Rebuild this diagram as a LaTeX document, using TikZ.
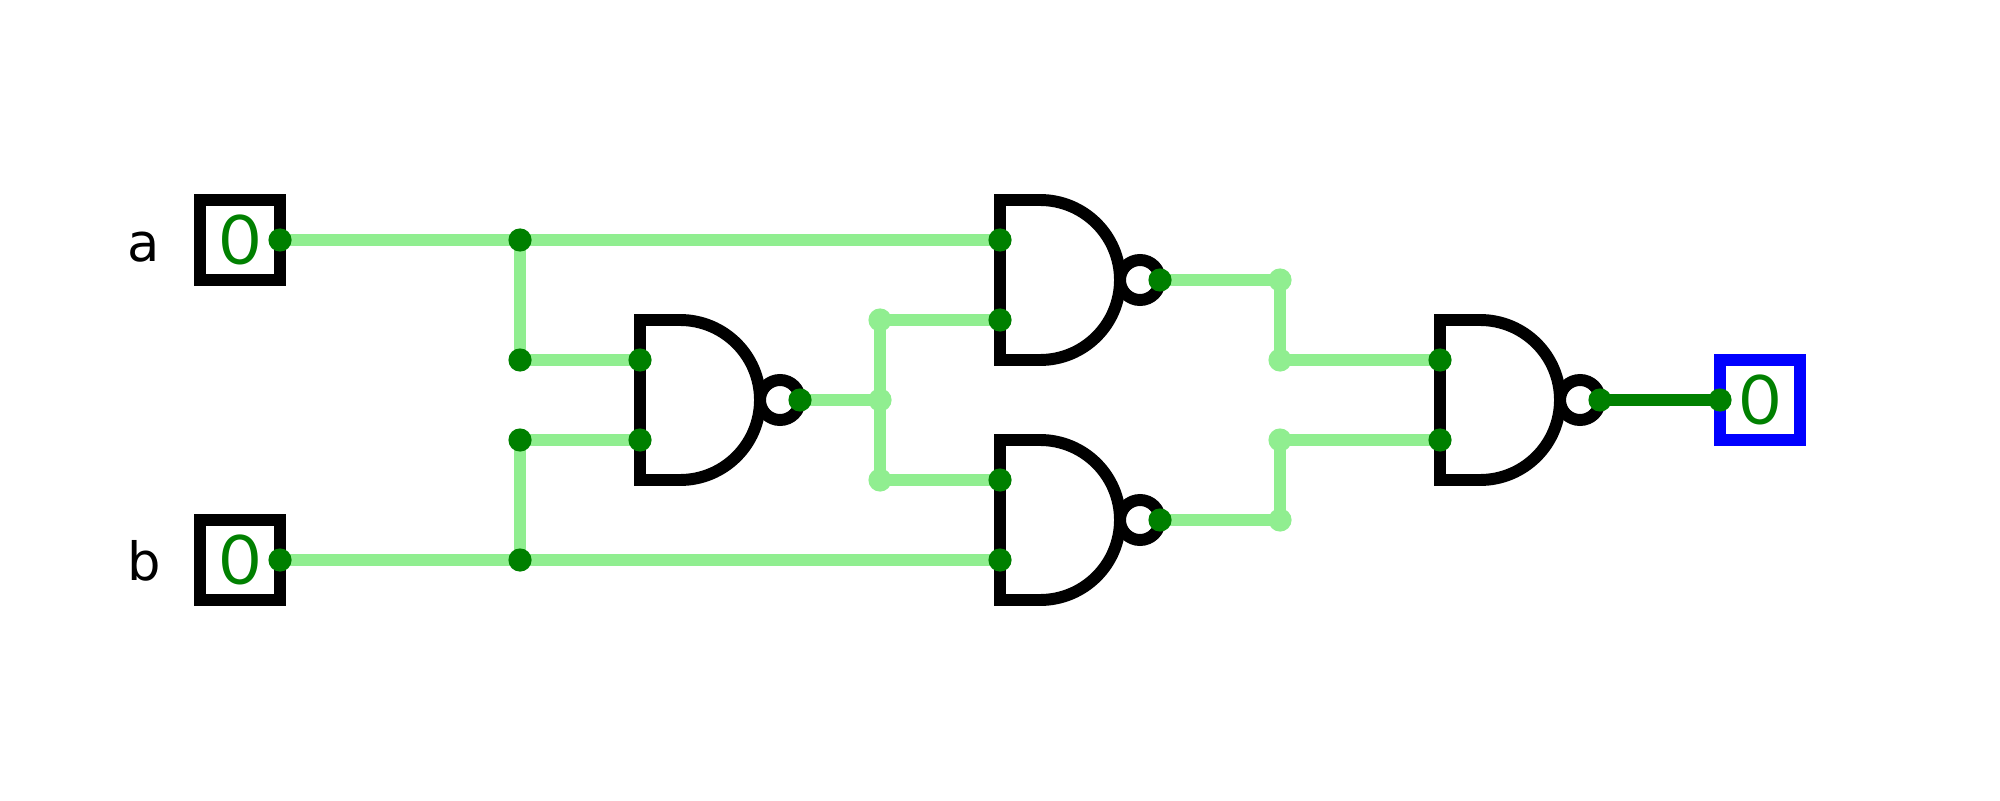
\documentclass[tikz,border=0pt]{standalone}
\usepackage{fontspec}
\setmainfont{Lato}
\newfontfamily\labelfont{DejaVu Sans}
\definecolor{wireoff}{RGB}{144,238,144}
\definecolor{wireon}{RGB}{0,128,0}
\tikzset{
  pinbox/.style={draw,fill=white,minimum size=0.8cm,inner sep=0pt,outer sep=0pt,text=wireon,font=\fontsize{19.5}{19}\selectfont},
  pinlabel/.style={anchor=base,font=\labelfont\fontsize{15}{15}\selectfont},
  wire/.style={draw=wireoff},
}
\begin{document}
\begin{tikzpicture}[x=0.4cm,y=0.4cm,line width=3.4pt]
\useasboundingbox (0,0) rectangle (50,20);
% inputs and output
\node[pinbox](a)at(6,14){0};
\node[pinbox](b)at(6,6){0};
\node[pinlabel](la)at(3.6,13.47){a};
\node[pinlabel](lb)at(3.6,5.5){b};
\node[pinbox,draw=blue](y)at(44,10){0};
% nand gates
\foreach \g/\gx/\gy in {g1/16/10,g2/25/13,g3/25/7,g4/36/10}{
\draw[fill=white](\gx+1,\gy+2)--(\gx,\gy+2)--(\gx,\gy-2)--(\gx+1,\gy-2)arc[start angle=-90,end angle=90,radius=2]--cycle;
\draw[fill=white](\gx+3.5,\gy)circle[radius=0.5];
\coordinate(\g-i1)at(\gx,\gy+1);
\coordinate(\g-i2)at(\gx,\gy-1);
\coordinate(\g-o)at(\gx+4,\gy);
}
\coordinate(ja)at(13,14);\coordinate(ja2)at(13,11);
\coordinate(jb)at(13,6);\coordinate(jb2)at(13,9);
\coordinate(m)at(22,10);\coordinate(m1)at(22,12);\coordinate(m2)at(22,8);
\coordinate(u)at(32,13);\coordinate(u2)at(32,11);
\coordinate(l)at(32,7);\coordinate(l2)at(32,9);
% wires
\draw[wire](a.east)--(ja)--(g2-i1);
\draw[wire](ja)--(ja2)--(g1-i1);
\draw[wire](b.east)--(jb)--(g3-i2);
\draw[wire](jb)--(jb2)--(g1-i2);
\draw[wire](g1-o)--(m);
\draw[wire](m1)--(m2);
\draw[wire](m1)--(g2-i2);
\draw[wire](m2)--(g3-i1);
\draw[wire](g2-o)--(u)--(u2)--(g4-i1);
\draw[wire](g3-o)--(l)--(l2)--(g4-i2);
\draw[wire,draw=wireon](g4-o)--(y.west);
% dots
\foreach \p in {a.east,b.east,ja,ja2,jb,jb2,g1-i1,g1-i2,g1-o,g2-i1,g2-i2,g2-o,g3-i1,g3-i2,g3-o,g4-i1,g4-i2,g4-o,y.west}
\fill[wireon](\p)circle[radius=0.29];
\foreach \p in {m,m1,m2,u,u2,l,l2}
\fill[wireoff](\p)circle[radius=0.29];
\end{tikzpicture}
\end{document}
